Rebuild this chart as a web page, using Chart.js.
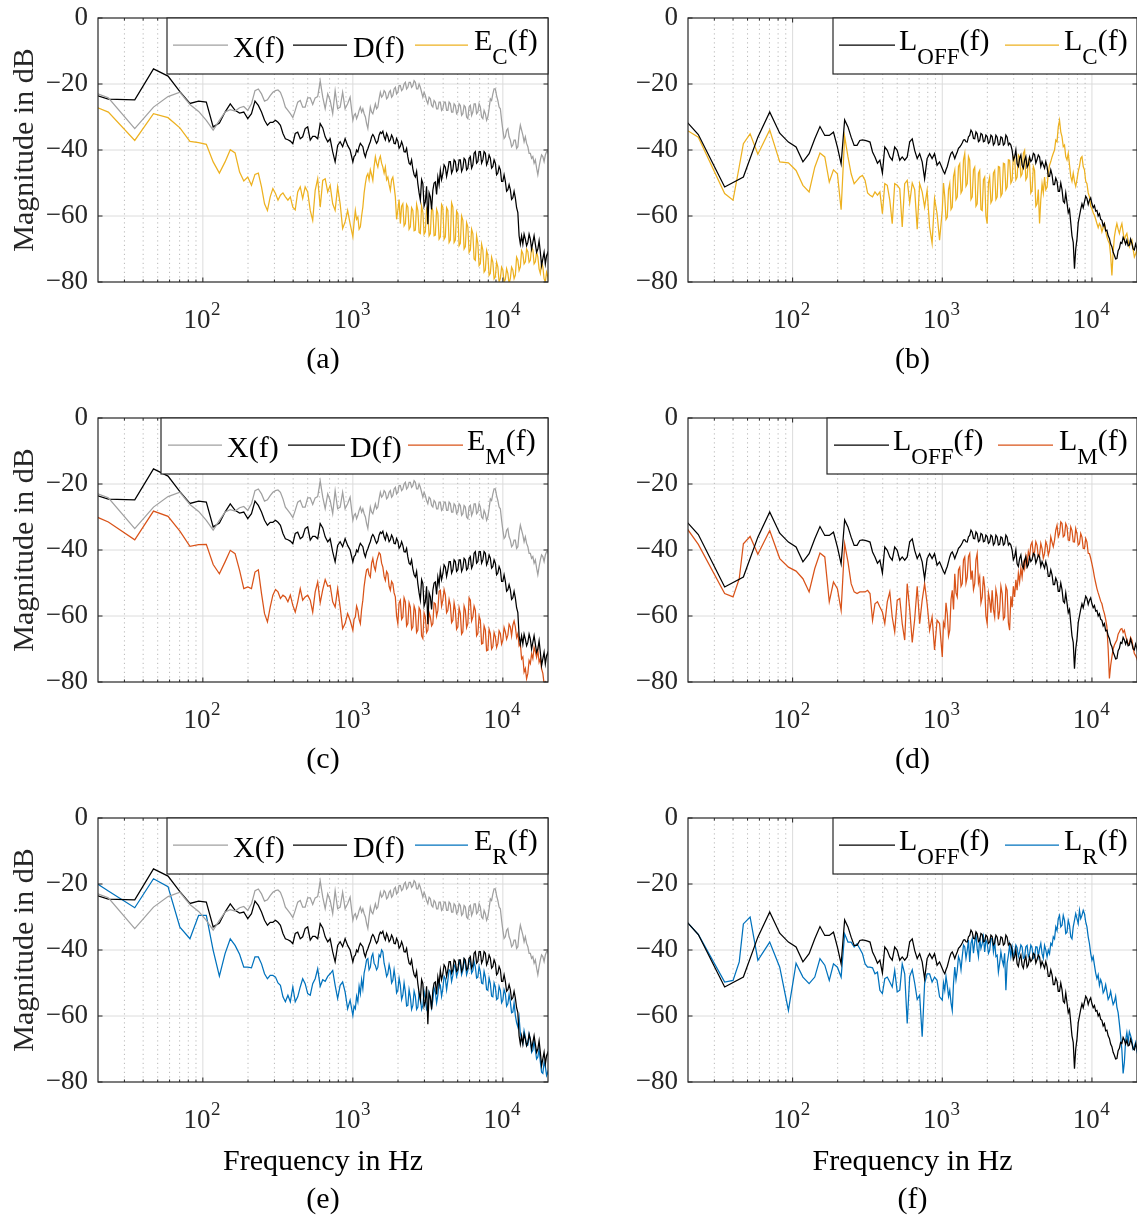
<!DOCTYPE html>
<html><head><meta charset="utf-8">
<script src="https://cdn.jsdelivr.net/npm/chart.js@4.4.1/dist/chart.umd.min.js"></script>
<style>
html,body{margin:0;padding:0;background:#fff;width:1137px;height:1216px;overflow:hidden;}
canvas{position:absolute;}
</style></head><body>
<canvas id="pa" width="560" height="379" style="left:0px;top:0px"></canvas>
<canvas id="pb" width="547" height="379" style="left:590px;top:0px"></canvas>
<canvas id="pc" width="560" height="379" style="left:0px;top:400px"></canvas>
<canvas id="pd" width="547" height="379" style="left:590px;top:400px"></canvas>
<canvas id="pe" width="560" height="419" style="left:0px;top:800px"></canvas>
<canvas id="pf" width="547" height="419" style="left:590px;top:800px"></canvas>
<script>
// ---------------- data ----------------
const freqHz = [
 11.72, 23.44, 35.16, 40, 44, 46.88, 52, 58.59,
 70.31, 82.03, 93.75, 105.47, 117.19, 128.91, 140.63, 152.34, 164.06, 175.78, 187.5, 199.22, 210.94, 222.66, 234.38, 246.09, 257.81, 269.53, 281.25, 292.97,
 305, 317, 329, 342, 355, 369, 383, 398, 413, 429,
 446, 463, 481, 500, 520, 540, 561, 583, 606, 630,
 654, 680, 706, 734, 762, 792, 823, 855, 888, 923,
 959,
 1000, 1019, 1039, 1059, 1080, 1101, 1122, 1144, 1166, 1189,
 1212, 1235, 1259, 1283, 1308, 1334, 1359, 1386, 1413, 1440,
 1468, 1496, 1525, 1555, 1585, 1616, 1647, 1679, 1711, 1745,
 1778, 1813, 1848, 1884, 1920, 1957, 1995, 2034, 2073, 2114,
 2154, 2196, 2239, 2282, 2326, 2371, 2417, 2464, 2512, 2561,
 2610, 2661, 2712, 2765, 2818, 2873, 2929, 2985, 3043, 3102,
 3162, 3224, 3286, 3350, 3415, 3481, 3548, 3617, 3687, 3758,
 3831, 3905, 3981, 4058, 4137, 4217, 4299, 4382, 4467, 4553,
 4642, 4732, 4823, 4917, 5012, 5109, 5208, 5309, 5412, 5517,
 5623, 5732, 5843, 5957, 6072, 6190, 6310, 6432, 6557, 6683,
 6813, 6945, 7080, 7217, 7356, 7499, 7644, 7792, 7943, 8097,
 8254, 8414, 8577, 8743, 8913, 9085, 9261, 9441, 9624, 9810,
 10000, 10194, 10391, 10593, 10798, 11007, 11220, 11438, 11659, 11885,
 12115, 12350, 12589, 12833, 13082, 13335, 13594, 13857, 14125, 14399,
 14678, 14962, 15252, 15548, 15849, 16156, 16469, 16788, 17113, 17445,
 17783, 18127, 18478, 18836, 19201, 19573, 19953, 20339, 20733
];

const magX = [
 -19, -24.2, -33.5, null, null, -27, null, -23.8,
 -22.5, -26.2, -28.3, -31, -34, -31, -28.5, -27.8, -28.2, -27.2, -26.8, -28, -26, -22, -21.5, -23, -25.2, -24.8, -23.5, -22.5,
 -22, -21.8, -22.5, -24.5, -27, -28, -29, -30.2, -28, -25.5,
 -25, -27, -27, -24.2, -24.2, -26.2, -24.2, -23.8, -19.1, -24,
 -27.5, -23, -25, -29, -22, -27.5, -27, -22.5, -27.5, -26,
 -24,
 -31, -29.5, -29, -30.5, -29.5, -28, -27, -28.5, -27.5, -29,
 -30, -32, -33.5, -30, -27, -28.5, -29, -27.5, -26, -27.5,
 -27, -24.5, -22.5, -24, -23.5, -22, -22.5, -24.5, -24, -22.5,
 -22, -24, -23.5, -21.5, -21, -23, -22.5, -20.5, -20.5, -22,
 -21.5, -20, -19.5, -21.5, -21, -19.5, -19.5, -21, -20.5, -19,
 -19.5, -21.5, -21.5, -20, -21, -22.5, -24, -22.5, -23.5, -25,
 -26, -24, -24.5, -26.5, -27, -25, -25.5, -27.5, -27.5, -25.5,
 -25.5, -28, -27.5, -25.5, -25.5, -28, -28, -25.5, -26, -28.5,
 -28.5, -26, -26.5, -29, -28.5, -26, -26.5, -29.5, -29, -26.5,
 -27, -30, -30.5, -27, -26.5, -29.5, -28.5, -26, -26, -29,
 -28.5, -26, -27, -30, -30.5, -28, -29, -31, -30, -27.5,
 -24.5, -25, -23, -21.5, -21.5, -23.5, -25, -27, -27.5, -31,
 -34, -36.5, -36, -34, -33.5, -36, -37, -39, -38.5, -37,
 -37, -39.5, -39, -35, -32.5, -34, -35.5, -37.5, -36, -38,
 -39, -41, -41, -42.5, -42, -44, -43, -45.5, -47.5, -45,
 -43, -41.5, -42, -43.5, -41.5, -40.5, -40.5, -42, -41
];

const magD = [
 -20.3, -24.6, -24.8, null, null, -15.4, null, -17.6,
 -22.3, -25.9, -25.2, -25.5, -33, -31.8, -28.5, -26, -28, -28.8, -28.5, -30.5, -29, -25.2, -26.5, -28.5, -31, -32.5, -31.6, -31.6,
 -31, -31.6, -32.5, -35, -36.6, -36.9, -37.3, -38.1, -35, -34.6,
 -36.6, -36, -33.5, -33, -37, -35.9, -35.9, -36.6, -32, -33.3,
 -36, -37.5, -36.6, -40.6, -43.6, -38.6, -37.5, -39, -36.6, -38.6,
 -40,
 -43.6, -42, -41.6, -40, -40.6, -39, -38, -38.5, -39, -41,
 -42.1, -40.5, -39.6, -38.5, -37.5, -36, -35.3, -36, -37.1, -38,
 -37.3, -35.5, -34.6, -35, -34.3, -36, -36.9, -35, -35.9, -37.5,
 -36.9, -35.5, -36.3, -38, -38.1, -36.5, -37.3, -39.5, -38.9, -37.5,
 -38.6, -40.5, -40.6, -39.5, -42.1, -44, -44.4, -43, -45.7, -47.5,
 -48.2, -46.5, -50.2, -53, -55.2, -49, -50.2, -57, -55.7, -51,
 -62.5, -53, -54.2, -58, -52.2, -50, -49.7, -53.5, -48.2, -50.5,
 -46.2, -49, -47.2, -44.5, -45.2, -48, -46, -43.5, -43.5, -47,
 -46, -43, -43.5, -46.5, -46, -43, -43, -46.5, -45.5, -42.5,
 -43, -46, -45.5, -42.5, -42, -45.5, -44.5, -41, -40.5, -44,
 -43.5, -40.5, -40.5, -44, -43, -40.5, -41, -44.5, -43.5, -41.5,
 -42.5, -45.5, -45, -43, -44, -47.5, -47, -45, -46, -49.5,
 -49.5, -47.5, -49.5, -52.5, -52, -50.5, -52, -55, -54.5, -52.5,
 -54.5, -57.5, -59, -66, -68.5, -66, -68.5, -65.5, -67, -69,
 -68, -65.5, -67, -70, -68, -66, -68.5, -71, -70, -67.5,
 -71, -75, -73, -71, -74.5, -72, -71, -73.5, -73
];

const magEC = [
 -23, -28.5, -37.1, null, null, -29, null, -30.2,
 -33.3, -37.4, -37.8, -38.3, -43.6, -47, -43.6, -39.9, -40.9, -46.7, -49.4, -48.2, -50.7, -47.4, -47, -51.2, -56.3, -58.3, -54.2, -51.7,
 -53.2, -55.2, -53.7, -53, -54.2, -55.2, -54.2, -57.3, -58.1, -52.7,
 -51.2, -54.7, -51.2, -52.7, -58.3, -61.3, -52.2, -48.7, -57.3, -49.2,
 -48.7, -52.7, -50.7, -56.3, -58.3, -51.2, -56.3, -63.8, -61.8, -58.3,
 -62.3,
 -66.3, -62, -58.3, -61, -60.3, -64, -63.3, -60, -57.3, -53,
 -50.2, -48, -47.2, -49, -46, -47.5, -49.2, -45, -42.1, -44,
 -45.2, -43, -41.9, -44, -45.2, -47, -45.2, -49, -48.2, -50.5,
 -52.2, -49, -48.2, -51, -54.2, -61, -58.3, -55, -62.3, -57,
 -56.3, -63, -62.3, -56.5, -57.3, -64, -63.3, -57.5, -58.3, -64.5,
 -64.3, -56.5, -58.3, -65, -65.3, -57, -58.8, -65.5, -64.8, -58,
 -59.3, -66, -65.3, -57.5, -58.3, -66, -65.8, -58, -59.3, -67,
 -66.3, -56.5, -57.3, -67, -66.3, -57.5, -58.3, -68, -67.3, -56,
 -57.3, -68, -67.3, -58.5, -59.3, -69, -68.3, -60, -61.3, -70,
 -69.3, -62, -63.3, -71, -70.3, -64, -65.3, -73, -73.4, -66,
 -68.3, -75, -74.4, -68.5, -70.3, -77, -76.4, -70.5, -71.9, -78,
 -77.4, -72.5, -74, -79, -78.4, -74, -75.4, -80, -78.9, -75.5,
 -76.4, -80, -79.2, -76, -77.4, -80.5, -78.9, -75.5, -76.4, -79,
 -77.9, -72.5, -73.4, -76.5, -75.4, -70.5, -71.4, -74.5, -73.9, -70,
 -70.8, -74, -73.4, -69.5, -70.3, -74.5, -73.9, -71, -72.4, -76,
 -77.4, -74, -75.4, -79, -80, -77, -78.4, -81, -82
];

const magEM = [
 -25.6, -31.5, -36.9, null, null, -28.2, null, -29.8,
 -34.3, -38.9, -38.4, -38.3, -44.4, -47.2, -43.6, -40.1, -41.1, -46.2, -51.7, -51.2, -51.7, -46.7, -46, -53.2, -59.3, -61.8, -57.3, -53.7,
 -52, -52.7, -54.7, -53.7, -54.2, -55.7, -53.7, -56.8, -58.8, -55.7,
 -51.7, -55.2, -54.2, -53.7, -55.2, -58.8, -52.7, -49.7, -56, -52,
 -49, -51, -50.7, -55.7, -57.3, -51.7, -57.3, -63.8, -62.3, -59.3,
 -61.3,
 -64.3, -61, -60.3, -57, -58.3, -61, -62.3, -58, -55.2, -51,
 -48.2, -46, -45.7, -47.5, -48.2, -44, -42.6, -45, -46.2, -43.5,
 -42.1, -40.8, -41.3, -44, -45.2, -48, -49.2, -46.5, -47.2, -51,
 -52.2, -49.5, -50.2, -53, -54.2, -60, -62.3, -56, -55.2, -61,
 -60.3, -54.5, -55.7, -63, -62.3, -56, -57.3, -64, -63.3, -57,
 -58.3, -65, -64.3, -57.5, -58.3, -66, -66.8, -59, -60.3, -65,
 -64.3, -59, -60.3, -63, -62.3, -56, -56.3, -60, -58.3, -52.5,
 -52.2, -57, -55.2, -52, -53.7, -59, -58.3, -55, -56.8, -62,
 -61.3, -56, -58.3, -64, -63.3, -57.5, -59.3, -65.5, -64.8, -57,
 -58.3, -63.5, -62.3, -54.5, -55.2, -61.5, -60.3, -57, -58.3, -66,
 -65.3, -60, -61.3, -68.5, -68.3, -63, -64.3, -70.5, -70.3, -64,
 -65.3, -70, -69.3, -65, -66.3, -69.5, -68.3, -64.5, -65.3, -68.5,
 -67.3, -63.5, -64.8, -67, -65.8, -62.5, -63.3, -66, -62.8, -61.5,
 -63.3, -66.5, -65.3, -69, -68.3, -73, -72.4, -77, -75.9, -79,
 -77.4, -73.5, -74.4, -71.5, -72.9, -69.5, -70.8, -72.5, -70.3, -74,
 -72.9, -76, -77.4, -80.5, -80, -82, -81.5, -83.5, -83
];

const magER = [
 -13.4, -22.1, -27.2, null, null, -18.4, null, -20.8,
 -33.1, -36.6, -29.5, -29.5, -40.1, -47.9, -41.1, -36.6, -38.6, -41.3, -45.2, -45.2, -45.4, -42.1, -42.1, -44.2, -47.2, -48.7, -47.7, -47.7,
 -48.2, -50, -50.7, -54.2, -55.7, -53.7, -55.7, -51.2, -55.7, -54.2,
 -51.2, -48.7, -50.2, -53.2, -53.7, -50.2, -48.7, -45.7, -51, -49,
 -49.5, -48, -47.2, -46.2, -50.7, -54.7, -50.7, -49.7, -52.7, -57.8,
 -55.2,
 -59.8, -57, -57.8, -54, -55.7, -51, -53.2, -49, -51.7, -47,
 -45.2, -43, -42.6, -46, -45.2, -42, -41.1, -44, -44.7, -46,
 -45.2, -41.5, -42.1, -40, -40.6, -44, -45.7, -48, -47.2, -44.5,
 -46.2, -50, -49.2, -46, -48.7, -53, -52.2, -48.5, -50.7, -55,
 -53.7, -50, -52.7, -57, -56.8, -52, -54.2, -58, -56.8, -52.5,
 -54, -58, -57.3, -53, -54.2, -58, -56.8, -52.5, -54.7, -58,
 -57.3, -53, -54.7, -57.5, -55.2, -51.5, -52.7, -56, -53.7, -50,
 -50.7, -54, -51.7, -48, -48.7, -52, -49.2, -46, -46.4, -49.5,
 -47.7, -44.5, -45.2, -48, -46.7, -43.5, -44.4, -47.5, -46.2, -43,
 -44.2, -47.5, -46.2, -43, -43.6, -47, -46.2, -43.5, -45.2, -48.5,
 -48.2, -45, -46.7, -50, -50.2, -46.5, -48.2, -52, -52.2, -48.5,
 -50.2, -54, -54.2, -50, -51.2, -55, -54.7, -51, -52.2, -56,
 -55.2, -52, -53.2, -57, -56.3, -53.5, -55.7, -59, -58.8, -56,
 -59.8, -62, -63.3, -60.5, -65.3, -67, -68.3, -64.5, -66.3, -69,
 -68.8, -65.5, -67.3, -71, -70.3, -67.5, -70.3, -73, -72.4, -70,
 -73.9, -77, -77.4, -74, -75.4, -78, -76.9, -78.5, -79
];

const magLOFF = [
 -20.3, -35.3, -51.2, null, null, -48.2, null, -36.1,
 -28.5, -34.9, -37.6, -39.1, -43.6, -41.1, -36.6, -32.9, -35.6, -35.6, -34.6, -39.1, -44.2, -30.9, -33, -36.1, -38.6, -38.6, -37.1, -36.9,
 -37.1, -37.3, -37.6, -40.6, -42.1, -44, -43.1, -47, -39.1, -40.1,
 -42.1, -43.1, -39.1, -40.1, -43.1, -42.1, -43.1, -42.1, -37.5, -36.6,
 -40.1, -42.6, -41.1, -43.6, -48.7, -42.6, -41.1, -42.6, -41.1, -44.6,
 -43.6,
 -45.6, -46.5, -47.2, -46, -45, -43.5, -42.1, -41, -40.6, -41.5,
 -42.6, -41.5, -40.6, -39.5, -39.1, -38.5, -37.9, -37, -36.9, -37.5,
 -37.6, -36, -35.6, -34, -34.6, -36.5, -36.6, -34.5, -35.1, -37.5,
 -37.1, -35, -35.3, -37.5, -37.3, -35.5, -35.9, -38, -37.6, -35.5,
 -35.9, -38.5, -37.9, -35.5, -36.1, -38.5, -38.3, -36, -36.3, -38.5,
 -38.1, -35.5, -36.1, -38.5, -37.9, -38.5, -40.1, -43, -42.1, -40,
 -44.2, -45, -42.6, -41.5, -44.6, -45.5, -43.1, -42, -45.2, -44.5,
 -42.1, -43.5, -42.9, -41, -41.4, -44, -42.9, -41.5, -42.1, -45,
 -43.5, -44.5, -45.5, -43.5, -45, -48, -48, -46, -47.5, -50.5,
 -50.5, -48.5, -49.5, -52.5, -52.5, -50, -52, -55.5, -56, -53,
 -56, -59, -58, -62, -66, -68, -76, -70, -67, -62,
 -60, -58, -56.3, -57.5, -55.7, -54, -54.7, -56.5, -55.2, -54.5,
 -56.3, -57.5, -56.8, -58.5, -58.3, -60, -59.3, -61, -61.3, -63,
 -62.3, -64.5, -64.3, -66, -66.8, -68.5, -69.3, -71, -71.9, -73,
 -72.9, -70.5, -69.8, -68, -68.3, -66.5, -67.3, -68.5, -67.3, -69,
 -68.8, -67, -68.3, -70, -70.3, -68.5, -69.8, -71.5, -71
];

const magLC = [
 -27.8, -36.1, -53.2, -55.2, -45, -38.1, -35.1, -41.3,
 -33.9, -43.6, -43.9, -46.2, -50.7, -52.7, -45.2, -40.9, -42.1, -49.7, -46, -47.2, -58.1, -35.9, -42.1, -47.2, -50.2, -49.2, -48.2, -47.7,
 -49.2, -53, -53.7, -54.2, -52.7, -53.7, -52.7, -59.3, -50.2, -50.7,
 -55.2, -62.3, -50.2, -50.7, -51.7, -63.3, -50.2, -49.2, -56, -50,
 -52, -64, -50.2, -52.7, -57.3, -52.2, -63.3, -68.3, -54.7, -59.3,
 -67.3,
 -58.3, -50, -54.2, -61, -60.3, -52, -50.2, -58, -57.3, -48,
 -46.2, -55, -54.2, -45, -44.2, -53, -52.2, -43, -41.1, -51,
 -50.2, -42, -43.1, -55, -54.2, -46, -45.2, -57, -56.3, -47,
 -46.2, -58, -58.3, -49, -48.2, -60, -62.3, -50, -48.2, -56,
 -55.2, -47, -46.2, -55, -54.2, -45, -45.2, -54, -53.2, -44,
 -44.2, -52, -51.2, -43, -43.1, -50, -49.2, -42, -42.1, -49,
 -48.2, -41.5, -42.1, -48, -47.2, -41, -40.1, -49, -48.2, -43,
 -44.2, -53, -52.2, -45, -46.2, -57, -56.3, -52, -62.3, -55,
 -50.2, -53, -48.2, -52, -51.2, -47, -44.6, -43.5, -42.1, -41,
 -40, -37, -37.5, -33, -31, -34.5, -36, -39, -38.5, -42,
 -43, -41, -44.5, -48, -49.5, -47, -49.5, -51, -49, -46.5,
 -45, -42.5, -42, -45, -46, -49.5, -50.2, -53, -54.2, -57,
 -57.8, -59, -59.8, -61, -62.3, -63.5, -62.3, -63, -64.8, -63.5,
 -62.3, -64.5, -66.3, -67.5, -68.3, -72, -78, -71, -66.3, -64,
 -62.3, -64, -65.3, -63.5, -62.3, -65, -67.3, -66, -65.3, -67.5,
 -69.3, -68, -67.3, -70, -72.4, -71.5, -70.3, -73, -76
];

const magLM = [
 -19, -38.3, -53.2, -54.2, -48.7, -38.1, -35.9, -41.3,
 -34.1, -42.6, -45.2, -46.4, -48.7, -52.7, -45.6, -40.9, -42.1, -55.7, -49.7, -51.7, -58.3, -38.1, -43.6, -50.2, -52.7, -53.2, -52.7, -52.7,
 -52.7, -52.2, -53.2, -61.3, -56.3, -55.7, -57.3, -58.8, -62.3, -55.7,
 -52.7, -60.3, -64.8, -55.2, -54.7, -62.3, -67.3, -50.2, -58, -68,
 -61, -51, -62.3, -55.2, -50.2, -56.3, -64.3, -60.3, -70.3, -61.3,
 -62.3,
 -72.4, -62, -63.3, -56, -59.3, -66, -64.3, -55, -52.2, -58,
 -47.2, -53, -54.2, -46, -45.2, -51, -50.2, -43, -42.1, -50,
 -48.2, -42, -41.1, -49, -46.2, -52, -50.2, -43, -41.1, -50,
 -48.2, -56, -54.2, -48, -51.2, -60, -62.3, -53, -55.2, -59,
 -52.2, -58, -60.3, -52, -54.2, -61, -58.3, -51, -53.2, -61,
 -60.3, -51, -52.2, -62, -64.3, -54, -57.3, -51, -54.2, -49,
 -52.2, -47, -49.7, -45.5, -48.2, -44, -45.7, -42, -44.4, -40.5,
 -42.1, -38.5, -37.6, -41.5, -40.6, -37.5, -38.6, -42, -41.6, -38,
 -39.6, -42.5, -41.1, -37.5, -38.6, -41.5, -40.1, -36, -37.6, -39,
 -37.1, -34, -32.5, -36, -35, -31.5, -32, -36, -35.6, -32,
 -33, -37, -37.1, -33, -34.1, -37.5, -37.6, -33.5, -35, -38.5,
 -38.1, -35, -36.1, -39.5, -39.6, -36.5, -37.6, -41, -41.1, -42.5,
 -44.2, -46, -48.2, -50, -51.7, -53, -54.2, -55.5, -56.3, -58,
 -59.3, -61, -63.3, -70, -78.9, -75, -72.4, -70, -68.8, -68,
 -67.3, -65.5, -64.8, -64, -63.8, -65, -64.3, -66, -67.3, -68.5,
 -68.3, -66.5, -67.3, -69.5, -71.4, -72, -72.9, -74, -75
];

const magLR = [
 -20.3, -35.3, -49.7, -49.2, -43.6, -32.1, -30, -43.1,
 -37.6, -45.2, -58.3, -44, -48.2, -50.2, -48.2, -42.6, -44.6, -49.2, -44.2, -45.2, -48.2, -35.1, -37.6, -37.6, -39.1, -38.1, -39.6, -41.1,
 -44.2, -45.2, -45.2, -45.4, -47.2, -46.7, -52.2, -53.2, -48.7, -48.2,
 -49.7, -51.2, -46.2, -52.7, -52.2, -44.2, -47.2, -62.3, -48, -46,
 -50, -55, -53.7, -66.3, -50.2, -47.2, -47.2, -49.7, -48.2, -49.2,
 -54.2,
 -55.2, -50, -52.2, -48, -50.7, -54, -52.2, -56, -58.3, -50,
 -45.2, -49, -46.2, -42, -43.1, -46, -42.1, -38.5, -39.1, -42.5,
 -40.1, -37, -43.6, -38, -36.6, -41, -37.6, -35.5, -39.6, -42,
 -36.3, -39.5, -38.1, -36, -40.6, -37, -37.9, -41, -40.1, -36.5,
 -36.6, -40.5, -37.6, -42, -41.6, -46.7, -44, -40.6, -43, -44.6,
 -41, -52.2, -44, -41.6, -38.5, -42, -39.1, -42, -40.6, -38.5,
 -39.3, -42, -40.6, -38.5, -39.1, -42.5, -42.1, -39, -38.6, -42,
 -41.1, -38.5, -39.3, -42.5, -42.1, -39, -39.1, -42, -39.6, -38,
 -41.1, -42.5, -38.6, -40, -42.1, -40, -41.1, -38, -38.6, -36,
 -36.6, -33, -34.1, -30.5, -29.5, -33, -32.5, -29.5, -31, -35,
 -34.6, -31, -32.5, -36, -36.6, -33, -31, -29, -30.5, -32,
 -28, -30.5, -29.5, -28, -29, -31.5, -33, -36, -38.1, -41,
 -43.1, -42, -44.6, -47, -48.7, -47.5, -50.7, -49, -50.2, -53,
 -52.2, -50.5, -52.7, -55, -54.2, -52.5, -54.7, -56.5, -55.7, -54,
 -57.3, -59, -62.3, -66, -70.3, -77.4, -74, -67.3, -65, -68,
 -64.8, -66, -67.3, -70, -69.3, -68, -70.8, -72, -73
];

const xTickValues = [100, 1000, 10000];
const xTickBase = ['10', '10', '10'];
const xTickExp = ['2', '3', '4'];
const yTickValues = [-80, -60, -40, -20, 0];
const yTickLabels = ['\u221280', '\u221260', '\u221240', '\u221220', '0'];
const yGridValues = [-20, -40, -60];
const xMajorGrid = [100, 1000, 10000];
const xMinorGrid = [30, 40, 50, 60, 70, 80, 90, 200, 300, 400, 500, 600, 700, 800, 900, 2000, 3000, 4000, 5000, 6000, 7000, 8000, 9000];

// ---------------- styles ----------------
const FONT = "'Liberation Serif','Times New Roman',serif";
const C_GRAY = '#a0a0a0', C_BLACK = '#000000', C_YEL = '#EDB120', C_ORA = '#D95319', C_BLU = '#0072BD';
const AX = '#262626';
const LINE_W = 1.25;

function decoPlugin(L) {
  return {
    id: 'deco',
    beforeDatasetsDraw(chart) {
      const {ctx, chartArea: a, scales: {x, y}} = chart;
      ctx.save();
      ctx.lineWidth = 1;
      ctx.strokeStyle = '#dcdcdc';
      ctx.beginPath();
      yGridValues.forEach(v => { const p = y.getPixelForValue(v); ctx.moveTo(a.left, p); ctx.lineTo(a.right, p); });
      xMajorGrid.forEach(v => { const p = x.getPixelForValue(v); ctx.moveTo(p, a.top); ctx.lineTo(p, a.bottom); });
      ctx.stroke();
      ctx.strokeStyle = '#b8b8b8';
      ctx.setLineDash([1.2, 3.3]);
      ctx.beginPath();
      xMinorGrid.forEach(v => { const p = x.getPixelForValue(v); ctx.moveTo(p, a.bottom); ctx.lineTo(p, a.top); });
      ctx.stroke();
      ctx.restore();
    },
    afterDatasetsDraw(chart) {
      const {ctx, chartArea: a, scales: {x, y}} = chart;
      ctx.save();
      ctx.setLineDash([]);
      ctx.strokeStyle = AX; ctx.lineWidth = 1;
      ctx.beginPath();
      yTickValues.forEach(v => { const p = y.getPixelForValue(v);
        ctx.moveTo(a.left, p); ctx.lineTo(a.left + 4.5, p);
        ctx.moveTo(a.right, p); ctx.lineTo(a.right - 4.5, p); });
      xMajorGrid.forEach(v => { const p = x.getPixelForValue(v);
        ctx.moveTo(p, a.bottom); ctx.lineTo(p, a.bottom - 4.5);
        ctx.moveTo(p, a.top); ctx.lineTo(p, a.top + 4.5); });
      xMinorGrid.forEach(v => { const p = x.getPixelForValue(v);
        ctx.moveTo(p, a.bottom); ctx.lineTo(p, a.bottom - 2.5);
        ctx.moveTo(p, a.top); ctx.lineTo(p, a.top + 2.5); });
      ctx.stroke();
      ctx.lineWidth = 1.2;
      ctx.strokeRect(a.left, a.top, a.right - a.left, a.bottom - a.top);
      // x tick labels with superscript exponents, placed through the x scale
      ctx.fillStyle = AX; ctx.textAlign = 'left'; ctx.textBaseline = 'alphabetic';
      xTickValues.forEach((v, i) => {
        const p = x.getPixelForValue(v);
        ctx.font = '27px ' + FONT; const wb = ctx.measureText(xTickBase[i]).width;
        ctx.font = '19px ' + FONT; const we = ctx.measureText(xTickExp[i]).width;
        const x0 = p - (wb + we) / 2 - 1;
        ctx.font = '27px ' + FONT; ctx.fillText(xTickBase[i], x0, a.bottom + 46);
        ctx.font = '19px ' + FONT; ctx.fillText(xTickExp[i], x0 + wb + 0.5, a.bottom + 33);
      });
      // legend
      const bx = a.left + L.box, by = a.top, bw = a.right - bx, bh = 56;
      ctx.fillStyle = '#ffffff'; ctx.fillRect(bx, by, bw, bh);
      ctx.lineWidth = 1.2; ctx.strokeStyle = AX; ctx.strokeRect(bx, by, bw, bh);
      ctx.textAlign = 'left'; ctx.textBaseline = 'alphabetic';
      L.items.forEach(it => {
        const ly = a.top + 27;
        ctx.strokeStyle = it.color; ctx.lineWidth = LINE_W;
        ctx.beginPath(); ctx.moveTo(a.left + it.l0, ly); ctx.lineTo(a.left + it.l1, ly); ctx.stroke();
        ctx.fillStyle = '#000';
        let tx = a.left + it.t;
        const big = '30px ' + FONT, small = '23px ' + FONT;
        if (!it.sub) { ctx.font = big; ctx.fillText(it.name + '(f)', tx, a.top + 39); return; }
        ctx.font = big; ctx.fillText(it.name, tx, a.top + 32); tx += ctx.measureText(it.name).width;
        ctx.font = small; ctx.fillText(it.sub, tx, a.top + 45.5); tx += ctx.measureText(it.sub).width;
        ctx.font = big; ctx.fillText('(f)', tx, a.top + 32);
      });
      ctx.restore();
    }
  };
}

function makeChart(p) {
  const canvas = document.getElementById(p.id);
  const H = canvas.height;
  const datasets = p.series.map(s => {
    if (s.values.length !== freqHz.length) throw new Error(s.label + ' length ' + s.values.length + ' vs ' + freqHz.length);
    return {
      label: s.label,
      data: freqHz.map((f, i) => ({x: f, y: s.values[i]})),
      borderColor: s.color, borderWidth: LINE_W, pointRadius: 0, pointHoverRadius: 0,
      tension: 0, spanGaps: true, fill: false
    };
  });
  new Chart(canvas, {
    type: 'line',
    data: {datasets},
    options: {
      responsive: false, animation: false, devicePixelRatio: 1, events: [],
      layout: {padding: {left: 0, right: p.padRight, top: 18, bottom: 0}},
      plugins: {legend: {display: false}, tooltip: {enabled: false}, title: {display: false}},
      scales: {
        x: {
          type: 'logarithmic', min: 20, max: 20000, position: 'bottom',
          afterBuildTicks: sc => { sc.ticks = xTickValues.map(v => ({value: v})); },
          afterFit: sc => { sc.height = H - 18 - 264; sc.paddingLeft = 0; sc.paddingRight = 0; },
          grid: {display: false, drawTicks: false}, border: {display: false},
          ticks: {display: false, autoSkip: false},
          title: {display: true, text: p.xTitle, color: '#000',
                  font: {family: FONT, size: 30, lineHeight: 1.2667}, padding: {top: 0, bottom: 0}}
        },
        y: {
          type: 'linear', min: -80, max: 0, position: 'left',
          afterBuildTicks: sc => { sc.ticks = yTickValues.map(v => ({value: v})); },
          afterFit: sc => { sc.width = 98; sc.paddingTop = 0; sc.paddingBottom = 0; },
          grid: {display: false, drawTicks: false}, border: {display: false},
          ticks: {padding: 10, color: AX, font: {family: FONT, size: 27}, callback: (v, i) => yTickLabels[i]},
          title: {display: p.yTitle, text: 'Magnitude in dB', color: AX,
                  font: {family: FONT, size: 30, lineHeight: 1.2}, padding: {top: 7, bottom: 0}}
        }
      }
    },
    plugins: [decoPlugin(p.legend)]
  });
}

const legA = (c, sub) => ({box: 69, items: [
  {l0: 75, l1: 130, t: 135, color: C_GRAY, name: 'X'},
  {l0: 195, l1: 249, t: 255, color: C_BLACK, name: 'D'},
  {l0: 317, l1: 370, t: 376, color: c, name: 'E', sub: sub}]});
const legB = (c, sub) => ({box: 145, items: [
  {l0: 151, l1: 207, t: 211, color: C_BLACK, name: 'L', sub: 'OFF'},
  {l0: 317, l1: 371, t: 376, color: c, name: 'L', sub: sub}]});

const panels = [
  {id: 'pa', padRight: 12, yTitle: true, xTitle: '(a)', legend: legA(C_YEL, 'C'),
   series: [{label: 'X(f)', values: magX, color: C_GRAY}, {label: 'D(f)', values: magD, color: C_BLACK}, {label: 'E_C(f)', values: magEC, color: C_YEL}]},
  {id: 'pb', padRight: 0, yTitle: false, xTitle: '(b)', legend: legB(C_YEL, 'C'),
   series: [{label: 'L_OFF(f)', values: magLOFF, color: C_BLACK}, {label: 'L_C(f)', values: magLC, color: C_YEL}]},
  {id: 'pc', padRight: 12, yTitle: true, xTitle: '(c)',
   legend: {box: 63, items: [
     {l0: 70, l1: 124, t: 129, color: C_GRAY, name: 'X'},
     {l0: 190, l1: 247, t: 252, color: C_BLACK, name: 'D'},
     {l0: 310, l1: 365, t: 369, color: C_ORA, name: 'E', sub: 'M'}]},
   series: [{label: 'X(f)', values: magX, color: C_GRAY}, {label: 'D(f)', values: magD, color: C_BLACK}, {label: 'E_M(f)', values: magEM, color: C_ORA}]},
  {id: 'pd', padRight: 0, yTitle: false, xTitle: '(d)',
   legend: {box: 139, items: [
     {l0: 146, l1: 201, t: 205, color: C_BLACK, name: 'L', sub: 'OFF'},
     {l0: 310, l1: 365, t: 371, color: C_ORA, name: 'L', sub: 'M'}]},
   series: [{label: 'L_OFF(f)', values: magLOFF, color: C_BLACK}, {label: 'L_M(f)', values: magLM, color: C_ORA}]},
  {id: 'pe', padRight: 12, yTitle: true, xTitle: ['Frequency in Hz', '(e)'], legend: legA(C_BLU, 'R'),
   series: [{label: 'X(f)', values: magX, color: C_GRAY}, {label: 'D(f)', values: magD, color: C_BLACK}, {label: 'E_R(f)', values: magER, color: C_BLU}]},
  {id: 'pf', padRight: 0, yTitle: false, xTitle: ['Frequency in Hz', '(f)'], legend: legB(C_BLU, 'R'),
   series: [{label: 'L_OFF(f)', values: magLOFF, color: C_BLACK}, {label: 'L_R(f)', values: magLR, color: C_BLU}]}
];
panels.forEach(makeChart);
</script>
</body></html>
